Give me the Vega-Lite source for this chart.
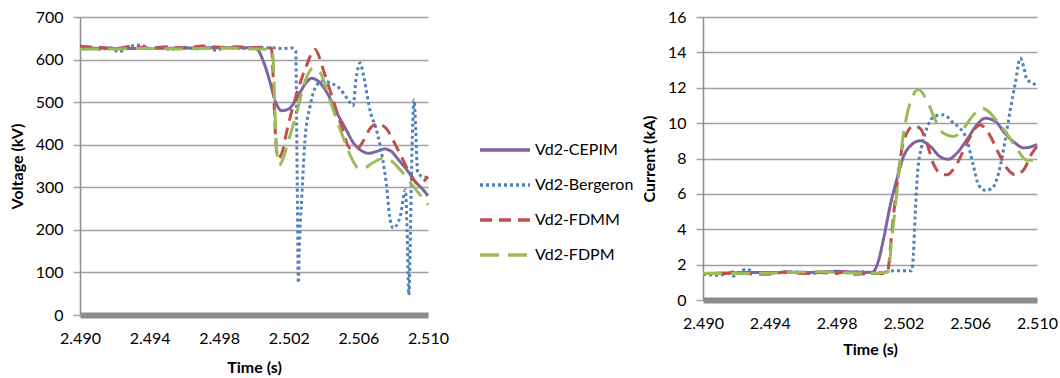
{
  "$schema": "https://vega.github.io/schema/vega-lite/v6.json",
  "background": "white",
  "padding": {"left": 9, "top": 9, "right": 3, "bottom": 5},
  "config": {
    "font": "Lato",
    "view": {"stroke": null},
    "axis": {"labelFont": "Lato", "labelFontSize": 16, "labelColor": "#000000", "titleFont": "Lato", "titleFontSize": 16, "titleFontWeight": "bold", "titleColor": "#000000"},
    "axisX": {"grid": false, "ticks": false, "domainColor": "#8c8c8c", "domainWidth": 6, "labelPadding": 15, "titlePadding": 13, "labelFlush": false},
    "axisY": {"grid": true, "gridColor": "#a0a0a0", "gridWidth": 1.5, "domainColor": "#8c8c8c", "domainWidth": 1.5, "tickColor": "#a0a0a0", "tickSize": 7, "tickWidth": 1.5, "labelPadding": 10, "titlePadding": 10}
  },
  "datasets": {
    "voltage": [
      {"s": "Vd2-CEPIM", "t": 2.4900, "v": 627}, {"s": "Vd2-CEPIM", "t": 2.4930, "v": 626}, {"s": "Vd2-CEPIM", "t": 2.4960, "v": 627}, {"s": "Vd2-CEPIM", "t": 2.4990, "v": 628}, {"s": "Vd2-CEPIM", "t": 2.5000, "v": 627}, {"s": "Vd2-CEPIM", "t": 2.5002, "v": 624}, {"s": "Vd2-CEPIM", "t": 2.5005, "v": 600}, {"s": "Vd2-CEPIM", "t": 2.5009, "v": 550}, {"s": "Vd2-CEPIM", "t": 2.5012, "v": 505}, {"s": "Vd2-CEPIM", "t": 2.5016, "v": 480}, {"s": "Vd2-CEPIM", "t": 2.5020, "v": 484}, {"s": "Vd2-CEPIM", "t": 2.5025, "v": 512}, {"s": "Vd2-CEPIM", "t": 2.5030, "v": 546}, {"s": "Vd2-CEPIM", "t": 2.5033, "v": 556}, {"s": "Vd2-CEPIM", "t": 2.5037, "v": 549}, {"s": "Vd2-CEPIM", "t": 2.5042, "v": 522}, {"s": "Vd2-CEPIM", "t": 2.5048, "v": 472}, {"s": "Vd2-CEPIM", "t": 2.5053, "v": 435}, {"s": "Vd2-CEPIM", "t": 2.5057, "v": 405}, {"s": "Vd2-CEPIM", "t": 2.5061, "v": 388}, {"s": "Vd2-CEPIM", "t": 2.5066, "v": 380}, {"s": "Vd2-CEPIM", "t": 2.5071, "v": 385}, {"s": "Vd2-CEPIM", "t": 2.5075, "v": 390}, {"s": "Vd2-CEPIM", "t": 2.5079, "v": 384}, {"s": "Vd2-CEPIM", "t": 2.5083, "v": 365}, {"s": "Vd2-CEPIM", "t": 2.5088, "v": 340}, {"s": "Vd2-CEPIM", "t": 2.5093, "v": 312}, {"s": "Vd2-CEPIM", "t": 2.5097, "v": 295}, {"s": "Vd2-CEPIM", "t": 2.5100, "v": 280},

      {"s": "Vd2-Bergeron", "t": 2.4900, "v": 632}, {"s": "Vd2-Bergeron", "t": 2.4905, "v": 628}, {"s": "Vd2-Bergeron", "t": 2.4912, "v": 624}, {"s": "Vd2-Bergeron", "t": 2.4918, "v": 628}, {"s": "Vd2-Bergeron", "t": 2.4922, "v": 618}, {"s": "Vd2-Bergeron", "t": 2.4927, "v": 626}, {"s": "Vd2-Bergeron", "t": 2.4931, "v": 633}, {"s": "Vd2-Bergeron", "t": 2.4935, "v": 634}, {"s": "Vd2-Bergeron", "t": 2.4940, "v": 626}, {"s": "Vd2-Bergeron", "t": 2.4946, "v": 628}, {"s": "Vd2-Bergeron", "t": 2.4952, "v": 624}, {"s": "Vd2-Bergeron", "t": 2.4960, "v": 629}, {"s": "Vd2-Bergeron", "t": 2.4966, "v": 625}, {"s": "Vd2-Bergeron", "t": 2.4972, "v": 630}, {"s": "Vd2-Bergeron", "t": 2.4978, "v": 622}, {"s": "Vd2-Bergeron", "t": 2.4984, "v": 628}, {"s": "Vd2-Bergeron", "t": 2.4990, "v": 626}, {"s": "Vd2-Bergeron", "t": 2.5000, "v": 627}, {"s": "Vd2-Bergeron", "t": 2.5010, "v": 628}, {"s": "Vd2-Bergeron", "t": 2.5016, "v": 626}, {"s": "Vd2-Bergeron", "t": 2.5022, "v": 627}, {"s": "Vd2-Bergeron", "t": 2.5024, "v": 620}, {"s": "Vd2-Bergeron", "t": 2.50245, "v": 450}, {"s": "Vd2-Bergeron", "t": 2.5025, "v": 250}, {"s": "Vd2-Bergeron", "t": 2.50255, "v": 75}, {"s": "Vd2-Bergeron", "t": 2.5026, "v": 150}, {"s": "Vd2-Bergeron", "t": 2.50275, "v": 280}, {"s": "Vd2-Bergeron", "t": 2.50293, "v": 412}, {"s": "Vd2-Bergeron", "t": 2.50322, "v": 490}, {"s": "Vd2-Bergeron", "t": 2.5036, "v": 540}, {"s": "Vd2-Bergeron", "t": 2.5040, "v": 550}, {"s": "Vd2-Bergeron", "t": 2.50437, "v": 545}, {"s": "Vd2-Bergeron", "t": 2.5049, "v": 533}, {"s": "Vd2-Bergeron", "t": 2.5054, "v": 506}, {"s": "Vd2-Bergeron", "t": 2.5057, "v": 492}, {"s": "Vd2-Bergeron", "t": 2.50586, "v": 553}, {"s": "Vd2-Bergeron", "t": 2.5061, "v": 592}, {"s": "Vd2-Bergeron", "t": 2.5063, "v": 561}, {"s": "Vd2-Bergeron", "t": 2.5067, "v": 475}, {"s": "Vd2-Bergeron", "t": 2.5070, "v": 440}, {"s": "Vd2-Bergeron", "t": 2.5074, "v": 365}, {"s": "Vd2-Bergeron", "t": 2.5076, "v": 310}, {"s": "Vd2-Bergeron", "t": 2.5078, "v": 231}, {"s": "Vd2-Bergeron", "t": 2.5080, "v": 204}, {"s": "Vd2-Bergeron", "t": 2.5084, "v": 231}, {"s": "Vd2-Bergeron", "t": 2.5087, "v": 294}, {"s": "Vd2-Bergeron", "t": 2.5088, "v": 200}, {"s": "Vd2-Bergeron", "t": 2.5089, "v": 47}, {"s": "Vd2-Bergeron", "t": 2.5090, "v": 220}, {"s": "Vd2-Bergeron", "t": 2.5091, "v": 420}, {"s": "Vd2-Bergeron", "t": 2.5092, "v": 505}, {"s": "Vd2-Bergeron", "t": 2.5093, "v": 430}, {"s": "Vd2-Bergeron", "t": 2.5094, "v": 335}, {"s": "Vd2-Bergeron", "t": 2.5097, "v": 325}, {"s": "Vd2-Bergeron", "t": 2.5100, "v": 323},

      {"s": "Vd2-FDMM", "t": 2.4900, "v": 631}, {"s": "Vd2-FDMM", "t": 2.4910, "v": 629}, {"s": "Vd2-FDMM", "t": 2.4920, "v": 626}, {"s": "Vd2-FDMM", "t": 2.4930, "v": 631}, {"s": "Vd2-FDMM", "t": 2.4940, "v": 627}, {"s": "Vd2-FDMM", "t": 2.4950, "v": 630}, {"s": "Vd2-FDMM", "t": 2.4960, "v": 627}, {"s": "Vd2-FDMM", "t": 2.4970, "v": 632}, {"s": "Vd2-FDMM", "t": 2.4980, "v": 629}, {"s": "Vd2-FDMM", "t": 2.4990, "v": 630}, {"s": "Vd2-FDMM", "t": 2.5000, "v": 628}, {"s": "Vd2-FDMM", "t": 2.5008, "v": 630}, {"s": "Vd2-FDMM", "t": 2.5010, "v": 625}, {"s": "Vd2-FDMM", "t": 2.5011, "v": 560}, {"s": "Vd2-FDMM", "t": 2.5012, "v": 450}, {"s": "Vd2-FDMM", "t": 2.5013, "v": 385}, {"s": "Vd2-FDMM", "t": 2.5014, "v": 368}, {"s": "Vd2-FDMM", "t": 2.5016, "v": 380}, {"s": "Vd2-FDMM", "t": 2.5019, "v": 435}, {"s": "Vd2-FDMM", "t": 2.5024, "v": 512}, {"s": "Vd2-FDMM", "t": 2.5030, "v": 584}, {"s": "Vd2-FDMM", "t": 2.5035, "v": 624}, {"s": "Vd2-FDMM", "t": 2.5040, "v": 574}, {"s": "Vd2-FDMM", "t": 2.5046, "v": 498}, {"s": "Vd2-FDMM", "t": 2.5051, "v": 435}, {"s": "Vd2-FDMM", "t": 2.5055, "v": 392}, {"s": "Vd2-FDMM", "t": 2.5059, "v": 390}, {"s": "Vd2-FDMM", "t": 2.5063, "v": 410}, {"s": "Vd2-FDMM", "t": 2.5067, "v": 440}, {"s": "Vd2-FDMM", "t": 2.5071, "v": 449}, {"s": "Vd2-FDMM", "t": 2.5076, "v": 438}, {"s": "Vd2-FDMM", "t": 2.5080, "v": 410}, {"s": "Vd2-FDMM", "t": 2.5084, "v": 378}, {"s": "Vd2-FDMM", "t": 2.5090, "v": 330}, {"s": "Vd2-FDMM", "t": 2.5094, "v": 308}, {"s": "Vd2-FDMM", "t": 2.5097, "v": 312}, {"s": "Vd2-FDMM", "t": 2.5100, "v": 325},

      {"s": "Vd2-FDPM", "t": 2.4900, "v": 624}, {"s": "Vd2-FDPM", "t": 2.4920, "v": 625}, {"s": "Vd2-FDPM", "t": 2.4940, "v": 626}, {"s": "Vd2-FDPM", "t": 2.4960, "v": 625}, {"s": "Vd2-FDPM", "t": 2.4980, "v": 627}, {"s": "Vd2-FDPM", "t": 2.5000, "v": 625}, {"s": "Vd2-FDPM", "t": 2.5010, "v": 624}, {"s": "Vd2-FDPM", "t": 2.5011, "v": 600}, {"s": "Vd2-FDPM", "t": 2.5012, "v": 480}, {"s": "Vd2-FDPM", "t": 2.5013, "v": 390}, {"s": "Vd2-FDPM", "t": 2.50145, "v": 352}, {"s": "Vd2-FDPM", "t": 2.5016, "v": 360}, {"s": "Vd2-FDPM", "t": 2.5020, "v": 412}, {"s": "Vd2-FDPM", "t": 2.5025, "v": 482}, {"s": "Vd2-FDPM", "t": 2.5029, "v": 545}, {"s": "Vd2-FDPM", "t": 2.5034, "v": 580}, {"s": "Vd2-FDPM", "t": 2.5038, "v": 570}, {"s": "Vd2-FDPM", "t": 2.5044, "v": 500}, {"s": "Vd2-FDPM", "t": 2.5051, "v": 420}, {"s": "Vd2-FDPM", "t": 2.5057, "v": 361}, {"s": "Vd2-FDPM", "t": 2.5060, "v": 345}, {"s": "Vd2-FDPM", "t": 2.5063, "v": 345}, {"s": "Vd2-FDPM", "t": 2.5068, "v": 357}, {"s": "Vd2-FDPM", "t": 2.5075, "v": 369}, {"s": "Vd2-FDPM", "t": 2.5079, "v": 362}, {"s": "Vd2-FDPM", "t": 2.5084, "v": 341}, {"s": "Vd2-FDPM", "t": 2.5092, "v": 300}, {"s": "Vd2-FDPM", "t": 2.5100, "v": 259}
    ],
    "current": [
      {"s": "Vd2-CEPIM", "t": 2.4900, "i": 1.5}, {"s": "Vd2-CEPIM", "t": 2.4930, "i": 1.55}, {"s": "Vd2-CEPIM", "t": 2.4960, "i": 1.55}, {"s": "Vd2-CEPIM", "t": 2.4980, "i": 1.62}, {"s": "Vd2-CEPIM", "t": 2.4990, "i": 1.58}, {"s": "Vd2-CEPIM", "t": 2.5000, "i": 1.55}, {"s": "Vd2-CEPIM", "t": 2.5002, "i": 1.6}, {"s": "Vd2-CEPIM", "t": 2.5005, "i": 2.2}, {"s": "Vd2-CEPIM", "t": 2.5008, "i": 3.4}, {"s": "Vd2-CEPIM", "t": 2.5012, "i": 5.3}, {"s": "Vd2-CEPIM", "t": 2.5016, "i": 6.8}, {"s": "Vd2-CEPIM", "t": 2.5020, "i": 8.1}, {"s": "Vd2-CEPIM", "t": 2.5024, "i": 8.7}, {"s": "Vd2-CEPIM", "t": 2.5030, "i": 9.0}, {"s": "Vd2-CEPIM", "t": 2.5036, "i": 8.7}, {"s": "Vd2-CEPIM", "t": 2.5042, "i": 8.1}, {"s": "Vd2-CEPIM", "t": 2.5047, "i": 7.96}, {"s": "Vd2-CEPIM", "t": 2.5052, "i": 8.3}, {"s": "Vd2-CEPIM", "t": 2.5058, "i": 9.06}, {"s": "Vd2-CEPIM", "t": 2.5064, "i": 9.9}, {"s": "Vd2-CEPIM", "t": 2.5069, "i": 10.28}, {"s": "Vd2-CEPIM", "t": 2.5075, "i": 10.1}, {"s": "Vd2-CEPIM", "t": 2.5081, "i": 9.4}, {"s": "Vd2-CEPIM", "t": 2.5087, "i": 8.87}, {"s": "Vd2-CEPIM", "t": 2.5092, "i": 8.6}, {"s": "Vd2-CEPIM", "t": 2.5097, "i": 8.68}, {"s": "Vd2-CEPIM", "t": 2.5100, "i": 8.8},

      {"s": "Vd2-Bergeron", "t": 2.4900, "i": 1.45}, {"s": "Vd2-Bergeron", "t": 2.4910, "i": 1.4}, {"s": "Vd2-Bergeron", "t": 2.4915, "i": 1.5}, {"s": "Vd2-Bergeron", "t": 2.4918, "i": 1.35}, {"s": "Vd2-Bergeron", "t": 2.4922, "i": 1.6}, {"s": "Vd2-Bergeron", "t": 2.4926, "i": 1.75}, {"s": "Vd2-Bergeron", "t": 2.4930, "i": 1.6}, {"s": "Vd2-Bergeron", "t": 2.4935, "i": 1.5}, {"s": "Vd2-Bergeron", "t": 2.4945, "i": 1.55}, {"s": "Vd2-Bergeron", "t": 2.4955, "i": 1.6}, {"s": "Vd2-Bergeron", "t": 2.4965, "i": 1.5}, {"s": "Vd2-Bergeron", "t": 2.4975, "i": 1.6}, {"s": "Vd2-Bergeron", "t": 2.4985, "i": 1.55}, {"s": "Vd2-Bergeron", "t": 2.4995, "i": 1.6}, {"s": "Vd2-Bergeron", "t": 2.5005, "i": 1.55}, {"s": "Vd2-Bergeron", "t": 2.5015, "i": 1.65}, {"s": "Vd2-Bergeron", "t": 2.5025, "i": 1.65}, {"s": "Vd2-Bergeron", "t": 2.5026, "i": 2.6}, {"s": "Vd2-Bergeron", "t": 2.5027, "i": 4.7}, {"s": "Vd2-Bergeron", "t": 2.50285, "i": 7.2}, {"s": "Vd2-Bergeron", "t": 2.5031, "i": 8.7}, {"s": "Vd2-Bergeron", "t": 2.5034, "i": 9.7}, {"s": "Vd2-Bergeron", "t": 2.5039, "i": 10.4}, {"s": "Vd2-Bergeron", "t": 2.5044, "i": 10.47}, {"s": "Vd2-Bergeron", "t": 2.5050, "i": 10.0}, {"s": "Vd2-Bergeron", "t": 2.5054, "i": 9.7}, {"s": "Vd2-Bergeron", "t": 2.5058, "i": 9.06}, {"s": "Vd2-Bergeron", "t": 2.5062, "i": 7.55}, {"s": "Vd2-Bergeron", "t": 2.5065, "i": 6.5}, {"s": "Vd2-Bergeron", "t": 2.5069, "i": 6.2}, {"s": "Vd2-Bergeron", "t": 2.5073, "i": 6.3}, {"s": "Vd2-Bergeron", "t": 2.5077, "i": 7.17}, {"s": "Vd2-Bergeron", "t": 2.5081, "i": 9.06}, {"s": "Vd2-Bergeron", "t": 2.5084, "i": 10.75}, {"s": "Vd2-Bergeron", "t": 2.5087, "i": 12.26}, {"s": "Vd2-Bergeron", "t": 2.5090, "i": 13.68}, {"s": "Vd2-Bergeron", "t": 2.5092, "i": 13.2}, {"s": "Vd2-Bergeron", "t": 2.5094, "i": 12.45}, {"s": "Vd2-Bergeron", "t": 2.5100, "i": 12.17},

      {"s": "Vd2-FDMM", "t": 2.4900, "i": 1.5}, {"s": "Vd2-FDMM", "t": 2.4915, "i": 1.5}, {"s": "Vd2-FDMM", "t": 2.4920, "i": 1.65}, {"s": "Vd2-FDMM", "t": 2.4925, "i": 1.5}, {"s": "Vd2-FDMM", "t": 2.4940, "i": 1.45}, {"s": "Vd2-FDMM", "t": 2.4950, "i": 1.6}, {"s": "Vd2-FDMM", "t": 2.4960, "i": 1.5}, {"s": "Vd2-FDMM", "t": 2.4970, "i": 1.55}, {"s": "Vd2-FDMM", "t": 2.4980, "i": 1.5}, {"s": "Vd2-FDMM", "t": 2.4985, "i": 1.6}, {"s": "Vd2-FDMM", "t": 2.4990, "i": 1.45}, {"s": "Vd2-FDMM", "t": 2.5000, "i": 1.5}, {"s": "Vd2-FDMM", "t": 2.5010, "i": 1.5}, {"s": "Vd2-FDMM", "t": 2.5011, "i": 1.8}, {"s": "Vd2-FDMM", "t": 2.5013, "i": 3.8}, {"s": "Vd2-FDMM", "t": 2.5016, "i": 6.4}, {"s": "Vd2-FDMM", "t": 2.5019, "i": 8.5}, {"s": "Vd2-FDMM", "t": 2.5023, "i": 9.6}, {"s": "Vd2-FDMM", "t": 2.5026, "i": 9.85}, {"s": "Vd2-FDMM", "t": 2.5030, "i": 9.7}, {"s": "Vd2-FDMM", "t": 2.5034, "i": 8.87}, {"s": "Vd2-FDMM", "t": 2.5038, "i": 7.7}, {"s": "Vd2-FDMM", "t": 2.5042, "i": 7.17}, {"s": "Vd2-FDMM", "t": 2.5046, "i": 7.08}, {"s": "Vd2-FDMM", "t": 2.5052, "i": 7.7}, {"s": "Vd2-FDMM", "t": 2.5058, "i": 8.87}, {"s": "Vd2-FDMM", "t": 2.5064, "i": 9.8}, {"s": "Vd2-FDMM", "t": 2.5066, "i": 9.9}, {"s": "Vd2-FDMM", "t": 2.5071, "i": 9.43}, {"s": "Vd2-FDMM", "t": 2.5077, "i": 8.3}, {"s": "Vd2-FDMM", "t": 2.5082, "i": 7.45}, {"s": "Vd2-FDMM", "t": 2.5087, "i": 7.08}, {"s": "Vd2-FDMM", "t": 2.5092, "i": 7.36}, {"s": "Vd2-FDMM", "t": 2.5097, "i": 8.3}, {"s": "Vd2-FDMM", "t": 2.5100, "i": 8.68},

      {"s": "Vd2-FDPM", "t": 2.4900, "i": 1.5}, {"s": "Vd2-FDPM", "t": 2.4930, "i": 1.5}, {"s": "Vd2-FDPM", "t": 2.4950, "i": 1.55}, {"s": "Vd2-FDPM", "t": 2.4970, "i": 1.6}, {"s": "Vd2-FDPM", "t": 2.4990, "i": 1.52}, {"s": "Vd2-FDPM", "t": 2.5000, "i": 1.5}, {"s": "Vd2-FDPM", "t": 2.5011, "i": 1.6}, {"s": "Vd2-FDPM", "t": 2.5013, "i": 3.4}, {"s": "Vd2-FDPM", "t": 2.5016, "i": 6.0}, {"s": "Vd2-FDPM", "t": 2.5019, "i": 8.7}, {"s": "Vd2-FDPM", "t": 2.5022, "i": 10.4}, {"s": "Vd2-FDPM", "t": 2.5025, "i": 11.4}, {"s": "Vd2-FDPM", "t": 2.5029, "i": 11.9}, {"s": "Vd2-FDPM", "t": 2.5034, "i": 11.3}, {"s": "Vd2-FDPM", "t": 2.5039, "i": 10.2}, {"s": "Vd2-FDPM", "t": 2.5044, "i": 9.43}, {"s": "Vd2-FDPM", "t": 2.5050, "i": 9.25}, {"s": "Vd2-FDPM", "t": 2.5056, "i": 9.7}, {"s": "Vd2-FDPM", "t": 2.5062, "i": 10.47}, {"s": "Vd2-FDPM", "t": 2.5067, "i": 10.85}, {"s": "Vd2-FDPM", "t": 2.5071, "i": 10.66}, {"s": "Vd2-FDPM", "t": 2.5077, "i": 10.0}, {"s": "Vd2-FDPM", "t": 2.5083, "i": 9.25}, {"s": "Vd2-FDPM", "t": 2.5089, "i": 8.4}, {"s": "Vd2-FDPM", "t": 2.5094, "i": 7.9}, {"s": "Vd2-FDPM", "t": 2.5100, "i": 7.9}
    ]
  },
  "spacing": 7,
  "resolve": {"scale": {"color": "independent", "strokeDash": "independent"}, "legend": {"color": "independent", "strokeDash": "independent"}},
  "hconcat": [
    {
      "width": 348,
      "height": 298,
      "data": {"name": "voltage"},
      "mark": {"type": "line", "strokeWidth": 3, "interpolate": "monotone"},
      "encoding": {
        "x": {"field": "t", "type": "quantitative", "scale": {"domain": [2.49, 2.51], "nice": false, "zero": false}, "axis": {"values": [2.49, 2.494, 2.498, 2.502, 2.506, 2.51], "format": ".3f", "title": "Time (s)"}},
        "y": {"field": "v", "type": "quantitative", "scale": {"domain": [0, 700], "nice": false}, "axis": {"values": [0, 100, 200, 300, 400, 500, 600, 700], "title": "Voltage (kV)"}},
        "color": {"field": "s", "type": "nominal", "sort": null, "scale": {"domain": ["Vd2-CEPIM", "Vd2-Bergeron", "Vd2-FDMM", "Vd2-FDPM"], "range": ["#8064a2", "#4f81bd", "#c0504d", "#9bbb59"]},
          "legend": {"orient": "none", "legendX": 398, "legendY": 106, "title": null, "symbolType": "stroke", "symbolSize": 2500, "symbolStrokeWidth": 3.5, "labelFont": "Lato", "labelFontSize": 16, "labelColor": "#000000", "labelOffset": 3, "rowPadding": -3, "labelLimit": 200}},
        "strokeDash": {"field": "s", "type": "nominal", "sort": null, "scale": {"domain": ["Vd2-CEPIM", "Vd2-Bergeron", "Vd2-FDMM", "Vd2-FDPM"], "range": [[1, 0], [3, 3], [12, 7], [19, 9]]},
          "legend": {"orient": "none", "legendX": 398, "legendY": 106, "title": null, "symbolType": "stroke", "symbolSize": 2500, "symbolStrokeWidth": 3.5, "labelFont": "Lato", "labelFontSize": 16, "labelColor": "#000000", "labelOffset": 3, "rowPadding": -3, "labelLimit": 200}}
      }
    },
    {
      "width": 334,
      "height": 283,
      "data": {"name": "current"},
      "mark": {"type": "line", "strokeWidth": 3, "interpolate": "monotone"},
      "encoding": {
        "x": {"field": "t", "type": "quantitative", "scale": {"domain": [2.49, 2.51], "nice": false, "zero": false}, "axis": {"values": [2.49, 2.494, 2.498, 2.502, 2.506, 2.51], "format": ".3f", "title": "Time (s)", "titlePadding": 10}},
        "y": {"field": "i", "type": "quantitative", "scale": {"domain": [0, 16], "nice": false}, "axis": {"values": [0, 2, 4, 6, 8, 10, 12, 14, 16], "title": "Current (kA)"}},
        "color": {"field": "s", "type": "nominal", "sort": null, "scale": {"domain": ["Vd2-CEPIM", "Vd2-Bergeron", "Vd2-FDMM", "Vd2-FDPM"], "range": ["#8064a2", "#4f81bd", "#c0504d", "#9bbb59"]}, "legend": null},
        "strokeDash": {"field": "s", "type": "nominal", "sort": null, "scale": {"domain": ["Vd2-CEPIM", "Vd2-Bergeron", "Vd2-FDMM", "Vd2-FDPM"], "range": [[1, 0], [3, 3], [12, 7], [19, 9]]}, "legend": null}
      }
    }
  ]
}
